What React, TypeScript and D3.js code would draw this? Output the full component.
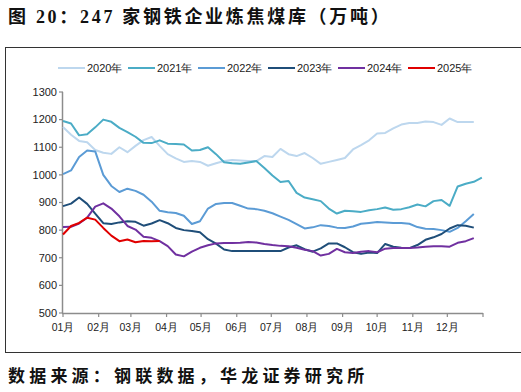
import React from 'react';
import * as d3 from 'd3';

const monthLabels = ['01月', '02月', '03月', '04月', '05月', '06月', '07月', '08月', '09月', '10月', '11月', '12月'];
const yTicks = [500, 600, 700, 800, 900, 1000, 1100, 1200, 1300];
const seriesNames = ['2020年', '2021年', '2022年', '2023年', '2024年', '2025年'];
const seriesColors = ['#bdd7ee', '#4bacc6', '#5b9bd5', '#1f4e79', '#7030a0', '#e00000'];

// weekly values (万吨)
const v2020 = [1173, 1145, 1123, 1118, 1090, 1080, 1076, 1100, 1082, 1105, 1126, 1137, 1105, 1075, 1060, 1047, 1050, 1047, 1033, 1042, 1050, 1054, 1052, 1050, 1050, 1068, 1065, 1094, 1075, 1068, 1079, 1061, 1040, 1047, 1054, 1061, 1092, 1108, 1125, 1150, 1152, 1168, 1182, 1188, 1188, 1193, 1191, 1181, 1204, 1191, 1191, 1191];
const v2021 = [1195, 1186, 1143, 1147, 1172, 1200, 1192, 1170, 1155, 1138, 1116, 1115, 1125, 1113, 1112, 1110, 1088, 1090, 1100, 1075, 1046, 1042, 1040, 1045, 1050, 1025, 998, 974, 978, 935, 918, 912, 905, 878, 860, 870, 868, 866, 872, 876, 882, 874, 876, 883, 893, 886, 905, 909, 888, 958, 968, 975, 990];
const v2022 = [1003, 1016, 1065, 1088, 1085, 1000, 960, 938, 950, 942, 928, 903, 870, 865, 862, 852, 822, 832, 878, 895, 898, 898, 888, 878, 876, 870, 861, 849, 837, 822, 806, 810, 818, 815, 809, 808, 813, 823, 826, 829, 828, 826, 826, 823, 811, 805, 804, 800, 794, 808, 832, 858];
const v2023 = [887, 896, 918, 895, 860, 825, 822, 828, 832, 830, 816, 824, 836, 825, 808, 800, 797, 792, 767, 751, 730, 724, 724, 724, 724, 724, 724, 724, 737, 745, 731, 722, 734, 752, 752, 738, 720, 714, 719, 717, 750, 740, 736, 735, 746, 765, 774, 786, 806, 818, 816, 809];
const v2024 = [811, 812, 824, 845, 885, 897, 878, 850, 815, 802, 776, 772, 760, 742, 712, 705, 722, 736, 745, 752, 753, 753, 754, 757, 755, 750, 746, 743, 742, 736, 729, 724, 708, 714, 732, 720, 717, 722, 724, 720, 733, 735, 735, 735, 737, 740, 742, 742, 740, 754, 760, 771];
const v2025 = [784, 815, 826, 845, 838, 808, 780, 760, 766, 756, 761, 760, 761];

const seriesValues = [v2020, v2021, v2022, v2023, v2024, v2025];

const W = 521;
const H = 392;
const plot = { left: 63, right: 483, top: 92, bottom: 313 };

export default function App() {
  const x = d3
    .scaleTime()
    .domain([new Date(2021, 0, 1), new Date(2022, 0, 1)])
    .range([plot.left, plot.right]);
  const y = d3.scaleLinear().domain([500, 1300]).range([plot.bottom, plot.top]);

  const weekDate = (i: number) => new Date(2021, 0, 1 + 7 * i);
  const line = d3
    .line<number>()
    .x((_, i) => x(weekDate(i)))
    .y((d) => y(d));

  const monthTicks = d3.range(13).map((m) => new Date(2021, m, 1));
  const axisColor = '#8c8c8c';
  const sans = "'Liberation Sans', Arial, sans-serif";
  const cjk = "'Liberation Serif', 'Noto Sans CJK SC', serif";

  return (
    <svg width={W} height={H} style={{ position: 'absolute', left: 0, top: 0 }}>
      <rect x={0} y={0} width={W} height={H} fill="#fff" />
      <text x={8} y={23} fontFamily={cjk} fontWeight="bold" fontSize={18} letterSpacing={2.7} fill="#111">
        图 20：247 家钢铁企业炼焦煤库（万吨）
      </text>
      {/* frame */}
      <line x1={5.5} y1={47} x2={5.5} y2={352} stroke="#333" strokeWidth={1} />
      <line x1={5} y1={47.5} x2={W} y2={47.5} stroke="#333" strokeWidth={1} />
      <line x1={5} y1={352.5} x2={W} y2={352.5} stroke="#333" strokeWidth={1} />

      {/* legend */}
      {seriesNames.map((name, i) => {
        const lx = 58 + i * 70;
        return (
          <g key={name}>
            <line x1={lx} x2={lx + 27} y1={68} y2={68} stroke={seriesColors[i]} strokeWidth={2} />
            <text x={lx + 29} y={72} fontFamily={sans} fontSize={11} fill="#222">
              {name}
            </text>
          </g>
        );
      })}

      {/* y axis */}
      <line x1={plot.left - 0.5} x2={plot.left - 0.5} y1={plot.top} y2={plot.bottom} stroke={axisColor} strokeWidth={1.5} />
      {yTicks.map((t) => (
        <g key={t}>
          <line x1={plot.left - 4} x2={plot.left} y1={y(t)} y2={y(t)} stroke={axisColor} strokeWidth={1.2} />
          <text x={plot.left - 6} y={y(t)} dy="0.35em" textAnchor="end" fontFamily={sans} fontSize={11} fill="#222">
            {t}
          </text>
        </g>
      ))}

      {/* x axis */}
      <line x1={plot.left - 1} x2={plot.right} y1={plot.bottom + 0.5} y2={plot.bottom + 0.5} stroke={axisColor} strokeWidth={1.5} />
      {monthTicks.map((d, i) => (
        <line key={i} x1={x(d)} x2={x(d)} y1={plot.bottom} y2={plot.bottom + 4} stroke={axisColor} strokeWidth={1.2} />
      ))}
      {monthLabels.map((lab, i) => (
        <text key={lab} x={x(monthTicks[i])} y={331} textAnchor="middle" fontFamily={sans} fontSize={10.5} fill="#222">
          {lab}
        </text>
      ))}

      {/* series */}
      {seriesValues.map((vals, i) => (
        <path key={i} d={line(vals) || ''} fill="none" stroke={seriesColors[i]} strokeWidth={2} strokeLinejoin="round" />
      ))}

      <text x={8} y={382} fontFamily={cjk} fontWeight="bold" fontSize={17} letterSpacing={4.2} fill="#111">
        数据来源：钢联数据，华龙证券研究所
      </text>
    </svg>
  );
}
